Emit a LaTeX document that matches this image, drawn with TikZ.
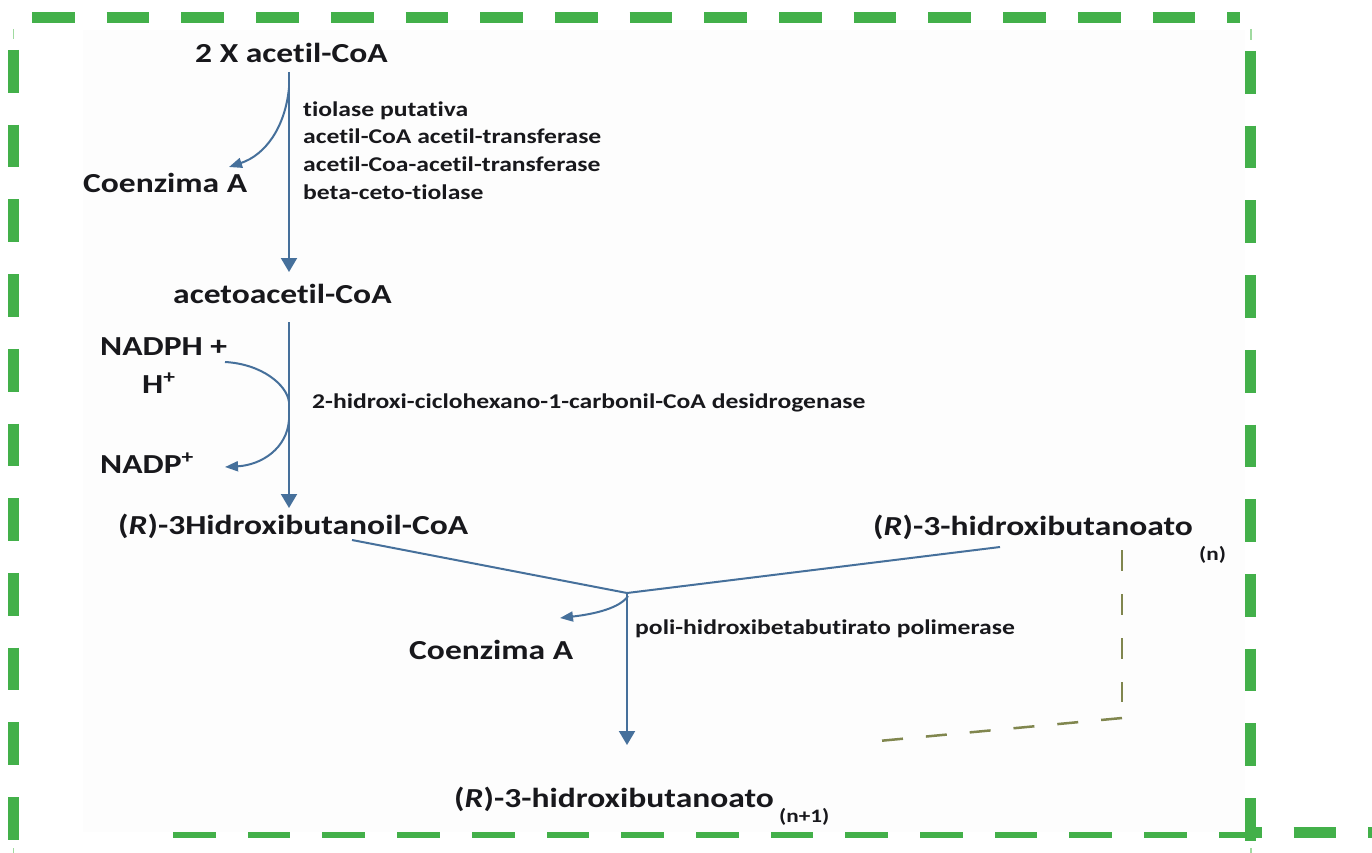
\documentclass[tikz,border=0pt]{standalone}
\usepackage{fontspec}
\newfontfamily\lab{Carlito}[FakeStretch=1.22, Ligatures={NoCommon}]
\usetikzlibrary{arrows.meta}

\definecolor{frame}{RGB}{67,176,74}
\definecolor{framelight}{RGB}{160,218,160}
\definecolor{arr}{RGB}{70,112,155}
\definecolor{txt}{RGB}{24,24,28}
\definecolor{olive}{RGB}{128,134,78}
\definecolor{paper}{RGB}{253,253,253}

\tikzset{
  big/.style={font=\lab\bfseries\fontsize{27.5}{30}\selectfont, text=txt, inner sep=0pt, anchor=base west},
  small/.style={font=\lab\bfseries\fontsize{21}{25}\selectfont, text=txt, inner sep=0pt, anchor=base west},
  subtxt/.style={font=\lab\bfseries\fontsize{19}{22}\selectfont, text=txt, inner sep=0pt, anchor=base west},
  flow/.style={draw=arr, line width=2pt, -{Triangle[width=16pt,length=14pt]}},
  side/.style={draw=arr, line width=2pt, -{Triangle[width=10pt,length=13pt]}},
  bond/.style={draw=arr, line width=2pt},
  greendash/.style={draw=frame, line width=11pt, dash pattern=on 42.7pt off 32pt},
  olivedash/.style={draw=olive, line width=2.5pt, dash pattern=on 21pt off 23pt},
  tick/.style={draw=framelight, line width=1.5pt}
}

\begin{document}
\begin{tikzpicture}[x=1pt,y=-1pt]
\useasboundingbox (0,0) rectangle (1372,853);

% dashed green frame
\draw[greendash] (32,17.5) -- (1240,17.5);
\draw[greendash] (13.5,50) -- (13.5,840);
\draw[greendash] (1250.5,51) -- (1250.5,841);
\draw[greendash] (173,832.5) -- (1372,832.5);
\draw[tick] (13.5,29) -- (13.5,39);
\draw[tick] (1251,29) -- (1251,40);
\draw[tick] (13.5,848) -- (13.5,853);
\draw[tick] (1251,848) -- (1251,853);

% pathway sheet
\fill[paper] (83,30) rectangle (1245,832);

% metabolites
\node[big] (acetil) at (195,63) {2 X acetil-CoA};
\node[big] (coa1) at (83,193) {Coenzima A};
\node[big] (acetoac) at (173,303) {acetoacetil-CoA};
\node[big] (nadph) at (100,355) {NADPH +};
\node[big] (hplus) at (142,393) {H\textsuperscript{+}};
\node[big] (nadp) at (100,473) {NADP\textsuperscript{+}};
\node[big] (hbcoa) at (118,534) {(\textit{R})-3Hidroxibutanoil-CoA};
\node[big] (hbn) at (873,535) {(\textit{R})-3-hidroxibutanoato};
\node[subtxt] (hbnsub) at (1199,560) {(n)};
\node[big] (coa2) at (409,659) {Coenzima A};
\node[big] (hbn1) at (454,807) {(\textit{R})-3-hidroxibutanoato};
\node[subtxt] (hbn1sub) at (779,822) {(n+1)};

% enzymes
\node[small] (enzA1) at (303,116.5) {tiolase putativa};
\node[small] (enzA2) at (303,144) {acetil-CoA acetil-transferase};
\node[small] (enzA3) at (303,171.5) {acetil-Coa-acetil-transferase};
\node[small] (enzA4) at (303,199) {beta-ceto-tiolase};
\node[small] (enzB) at (312,408) {2-hidroxi-ciclohexano-1-carbonil-CoA desidrogenase};
\node[small] (enzC) at (635,634) {poli-hidroxibetabutirato polimerase};

% anchor points of the reaction arrows
\coordinate (s1) at (289,72);
\coordinate (e1) at (289,272);
\coordinate (b1) at (289,88);
\coordinate (t1) at (229,167);
\coordinate (s2) at (289,322);
\coordinate (e2) at (289,508);
\coordinate (n1) at (225,362);
\coordinate (n2) at (289,402);
\coordinate (n3) at (289,420);
\coordinate (n4) at (225,467);
\coordinate (l1) at (352,540);
\coordinate (r1) at (1000,547);
\coordinate (m) at (627,593);
\coordinate (e3) at (627,745);
\coordinate (b3) at (628,596);
\coordinate (t3) at (560,618);

% step 1: thiolase
\draw[flow] (s1) -- (e1);
\draw[side] (b1) .. controls (285,128) and (265,155) .. (t1);

% step 2: reductase
\draw[flow] (s2) -- (e2);
\draw[bond] (n1) .. controls (262,364) and (287,385) .. (n2);
\draw[side] (n3) .. controls (287,448) and (262,465) .. (n4);

% step 3: polymerase
\draw[bond] (l1) -- (m);
\draw[bond] (r1) -- (m);
\draw[flow] (m) -- (e3);
\draw[side] (b3) .. controls (620,608) and (595,614) .. (t3);

% chain elongation loop
\draw[olivedash] (1122,550) -- (1122,702);
\draw[olivedash] (1122,718) -- (868,742);
\end{tikzpicture}
\end{document}
